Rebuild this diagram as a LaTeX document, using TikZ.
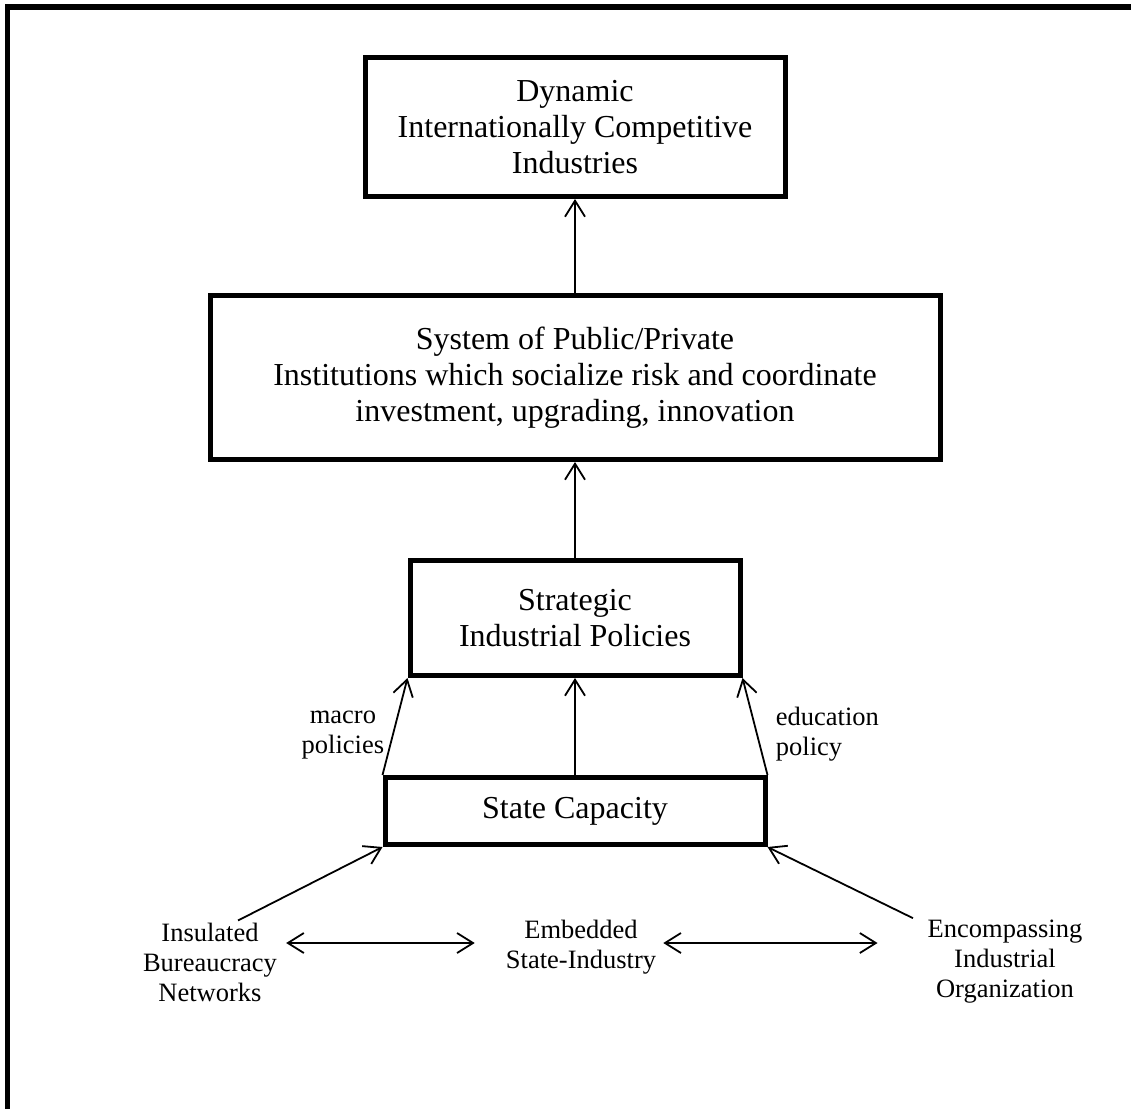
\documentclass[tikz,border=0pt]{standalone}
\usepackage{fontspec}
\setmainfont{Liberation Serif}
\usetikzlibrary{arrows.meta,positioning,calc}

\begin{document}
\begin{tikzpicture}[
  x=1pt, y=-1pt,
  >={Straight Barb[length=16pt,width=20pt]},
  every node/.style={font=\fontsize{32}{36}\selectfont},
  box/.style={draw, line width=5pt, align=center, inner sep=0pt},
  small/.style={font=\fontsize{26.5}{30}\selectfont, align=center, inner sep=2pt},
  link/.style={->, line width=1.8pt},
  frame/.style={line width=5.5pt}
]
\useasboundingbox (0,0) rectangle (1131,1108);
\draw[frame] (7.5,1120) -- (7.5,7) -- (1140,7);

\node[box, minimum width=380pt, minimum height=67pt] (cap) at (575,811) {State Capacity};
\node[box, minimum width=330pt, minimum height=115pt, above=97pt of cap] (strat) {Strategic\\Industrial Policies};
\node[box, minimum width=730pt, minimum height=164pt, above=96pt of strat] (inst) {System of Public/Private\\Institutions which socialize risk and coordinate\\investment, upgrading, innovation};
\node[box, minimum width=420pt, minimum height=139pt, above=94pt of inst] (comp) {Dynamic\\Internationally Competitive\\Industries};

\node[small] (ins) at (210,962) {Insulated\\Bureaucracy\\Networks};
\node[small] (emb) at (581,947) {Embedded\\State-Industry};
\node[small] (enc) at (1005,962) {Encompassing\\Industrial\\Organization};

% upward chain
\draw[link] (inst) -- (comp);
\draw[link] (strat) -- (inst);
\draw[link] (cap) -- (strat);
\draw[link] (cap.north west) -- node[small, left, xshift=-8pt, yshift=-9pt] {macro\\policies} (strat.south west);
\draw[link] (cap.north east) -- node[small, right, xshift=18pt, yshift=-8pt, align=left] {education\\policy} (strat.south east);

% sources of capacity
\draw[link] ($(ins.north)+(28pt,0pt)$) -- (cap.south west);
\draw[link] ($(enc.north)+(-92pt,0pt)$) -- (cap.south east);
\draw[link, <->] ($(ins.east)+(7pt,19pt)$) -- ($(ins.east -| emb.west)+(-29pt,19pt)$);
\draw[link, <->] ($(emb.east |- ins.east)+(5pt,19pt)$) -- ($(enc.west |- ins.east)+(-48pt,19pt)$);

\end{tikzpicture}
\end{document}
